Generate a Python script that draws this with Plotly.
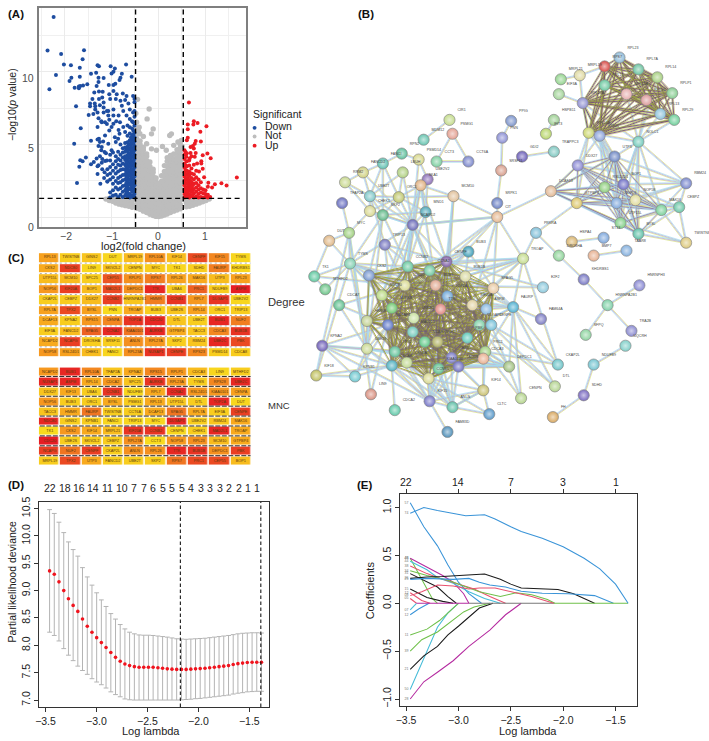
import plotly.graph_objects as go

FONT = "Liberation Sans"
W, H = 709, 741

# ---------------- Panel A: volcano ----------------
DOWN_SPARSE = [(-2.24,13.76),(-2.37,11.45),(-2.08,11.22),(-1.59,11.47),(-1.62,10.86),(-2.02,10.5),(-1.87,10.45),(-1.68,10.27),
(-2.19,9.77),(-2.33,8.8),(-1.90,9.36),(-1.86,9.59),(-1.68,9.66),(-1.79,8.9),(-1.70,8.98),(-1.67,9.02),(-1.61,9.05),(-1.52,9.14),
(-1.70,8.86),(-1.44,9.86),(-1.33,9.93),(-1.30,10.45),(-1.27,10.38),(-1.02,10.38),(-0.93,10.22),(-0.96,10.0),(-1.0,9.88),(-0.69,10.5),
(-0.78,9.86),(-0.81,9.59),(-0.83,9.43),(-0.57,9.66),(-1.28,9.59),(-1.17,9.57),(-1.28,9.3),(-1.32,9.02),(-1.06,9.09),(-0.96,9.09),
(-0.92,9.18),(-1.37,8.57),(-1.27,8.64),(-1.19,8.62),(-1.41,8.12),(-1.46,7.82),(-1.36,7.82),(-1.46,7.62),(-1.35,7.62),(-1.27,8.12),
(-1.2,8.23),(-1.17,7.89),(-1.05,8.46),(-0.96,8.68),(-0.89,8.46),(-0.76,8.5),(-0.68,8.34),(-0.54,8.34),(-0.51,8.12),(-1.03,8.12),
(-0.91,8.12),(-0.81,8.0),(-0.71,8.05),(-0.64,7.82),(-1.76,7.62),(-1.49,7.03),(-1.39,7.1),(-1.3,7.2),(-1.17,7.55),(-1.17,7.2),
(-1.07,7.3),(-0.96,7.4),(-0.78,7.66),(-0.75,7.3),(-0.61,7.4),(-0.54,7.2),(-0.96,7.0),(-1.07,7.0),(-0.85,7.0),(-0.68,7.0),
(-1.21,6.53),(-1.14,6.53),(-0.96,6.42),(-0.82,6.53),(-0.61,6.75),(-0.54,6.53),(-1.66,6.12),(-1.8,5.05),(-1.44,5.26),(-1.27,5.4),
(-1.25,5.17),(-1.14,5.62),(-1.05,5.96),(-0.93,5.5),(-0.83,5.73),(-0.71,5.85),(-0.61,6.19),(-1.21,4.83),(-1.15,4.49),(-1.07,5.05),
(-0.91,5.17),(-1.0,4.6),(-1.67,3.92),(-1.62,3.85),(-1.55,4.1),(-1.69,3.47),(-1.44,3.65),(-1.32,4.03),(-1.28,3.58),(-1.21,3.74),
(-1.14,3.87),(-1.74,2.36),(-1.24,2.31),(-1.09,2.45),(-1.28,4.9),(-1.3,5.35),(-1.22,4.6),(-1.25,4.2),(-1.2,4.0),(-1.1,3.9),(-1.12,4.4),
(-1.18,5.2),(-1.3,6.2),(-1.28,6.8),(-1.22,6.6),(-1.35,7.4),(-1.25,7.7),(-1.1,6.4),(-1.1,7.3),(-1.05,6.7),(-1.0,6.2),(-0.9,6.6),
(-0.85,6.0),(-0.75,6.2),(-1.3,3.5),(-1.2,3.3),(-1.38,3.8),(-1.30,2.97),(-1.15,3.1),(-1.16,2.7)]
DOWN_COLS = [(-0.51,[1.35,1.6,1.9,2.2,2.5,2.8,3.1,3.4,3.7,4.0,4.3,4.6,4.9,5.2,5.5,5.8,6.3,6.9,7.3,7.9]),
(-0.535,[1.5,1.75,2.05,2.35,2.65,2.95,3.25,3.55,3.85,4.15,4.45,4.75,5.05,5.35,5.65,5.95]),
(-0.56,[1.4,1.75,2.05,2.35,2.65,2.95,3.25,3.55,3.85,4.15,4.45,4.75,5.05,5.35,5.65,6.1,6.6]),
(-0.585,[1.5,1.9,2.2,2.5,2.8,3.1,3.4,3.7,4.0,4.3,4.6,4.9,5.2,5.5]),
(-0.61,[1.35,1.6,1.95,2.3,2.6,2.9,3.2,3.5,3.8,4.1,4.4,4.7,5.0,5.3,5.75]),
(-0.635,[1.6,1.95,2.25,2.6,2.9,3.25,3.55,3.85,4.15,4.4,4.7,5.0]),
(-0.66,[1.45,1.8,2.1,2.45,2.75,3.05,3.4,3.65,3.95,4.25,4.55,4.85,5.15,5.6,6.3]),
(-0.685,[1.65,2.0,2.35,2.8,3.15,3.5,3.8,4.1,4.65]),
(-0.71,[1.5,1.85,2.2,2.6,2.95,3.3,3.6,3.95,4.2,4.5,4.8,5.1]),
(-0.76,[1.4,1.75,2.15,2.55,2.9,3.3,3.7,4.1,4.45,4.75]),
(-0.81,[1.55,2.0,2.4,2.8,3.25,3.55,3.9,4.3,5.0]),
(-0.86,[1.4,1.9,2.35,2.7,3.15,3.6,4.0,4.5,5.4]),
(-0.91,[1.55,2.05,2.5,3.0,3.4,3.85,4.2]),
(-0.97,[1.5,1.85,2.3,2.75,3.2,3.65,4.45]),
(-1.03,[1.35,1.7,2.6,3.0,3.45,3.9,4.3]),
(-1.09,[2.45,2.9,3.3])]
UP_SPARSE = [(0.655,7.89),(0.76,6.6),(0.84,6.48),(0.63,6.37),(0.75,6.37),(1.03,6.26),(0.63,6.05),(0.9,5.87),(0.63,5.46),(0.61,5.3),
(0.91,5.2),(0.8,5.24),(0.78,5.05),(0.74,4.9),(0.69,4.83),(0.76,4.72),(0.58,4.49),(0.69,4.42),(0.8,4.42),(1.05,4.38),(0.95,4.26),
(1.12,4.06),(0.6,4.15),(0.67,4.03),(0.78,4.15),(0.92,3.85),(0.83,3.7),(0.92,3.7),(0.95,3.33),(1.68,2.74),(1.35,2.33),(1.46,2.18),
(1.21,2.27),(1.07,2.38),(1.06,2.1),(1.15,2.04),(0.87,3.15),(0.98,2.75)]
UP_COLS = [(0.56,[1.35,1.6,1.9,2.2,2.5,2.8,3.1,3.4,3.7,4.0,4.3,4.6]),
(0.585,[1.5,1.75,2.05,2.35,2.65,2.95,3.25,3.55]),
(0.61,[1.4,1.7,2.0,2.3,2.6,2.9,3.2,3.5,3.85,4.4]),
(0.635,[1.5,1.8,2.1,2.4,2.7,3.0]),
(0.66,[1.35,1.6,1.95,2.25,2.55,2.85,3.15,3.55,3.9]),
(0.685,[1.5,1.85,2.15,2.45]),
(0.71,[1.45,1.75,2.05,2.4,2.7,3.0,3.35,4.2]),
(0.735,[1.55,1.85,2.2]),
(0.76,[1.35,1.65,1.95,2.3,2.6,2.95,3.6]),
(0.81,[1.45,1.75,2.05,2.35,2.75,3.2]),
(0.86,[1.35,1.6,1.9,2.2,2.6]),
(0.91,[1.4,1.7,2.0,2.4]),
(0.96,[1.35,1.65,1.9]),
(1.01,[1.4,1.6,1.85]),
(1.06,[1.35,1.55]),
(1.11,[1.4])]
NOT_SPARSE = [(-0.196,7.44),(-0.24,6.76),(-0.48,7.14),(-0.465,6.53),(-0.41,6.19),(-0.11,6.07),(-0.146,5.73),(-0.04,4.6),(0.088,4.87),
(0.17,4.6),(0.28,5.73),(0.244,5.62),(0.33,4.94),(0.42,5.17),(0.49,5.28),(0.51,4.87),(-0.32,5.55),(-0.25,5.05),(-0.146,4.7),
(-0.395,5.74),(-0.43,5.96),(-0.445,8.1),(-0.47,6.1)]
NOT_COLS = [(-1.12,[1.25]),(-1.05,[1.15,1.3]),(-0.98,[1.1,1.3]),(-0.91,[0.98,1.18,1.32]),(-0.84,[0.9,1.1,1.3]),(-0.77,[0.85,1.05,1.28]),
(-0.70,[0.8,1.0,1.25]),(-0.63,[0.75,0.98,1.2]),(-0.56,[0.68,0.92,1.18]),
(-0.46,[0.62,0.9,1.2,1.5,1.8,2.1,2.4,2.7,3.0,3.3,3.6,3.9,4.2,4.5,4.8,5.1,5.4,5.7]),
(-0.39,[0.55,0.8,1.1,1.4,1.7,2.0,2.3,2.6,2.9,3.2,3.5,3.8,4.1,4.4,4.7,5.0,5.25]),
(-0.32,[0.42,0.7,1.0,1.3,1.6,1.9,2.2,2.5,2.8,3.1,3.4,3.7,4.0,4.3,4.6,4.8]),
(-0.25,[0.32,0.6,0.9,1.2,1.5,1.8,2.1,2.4,2.7,3.0,3.3,3.6,3.9,4.2,4.35]),
(-0.18,[0.2,0.5,0.8,1.1,1.4,1.7,2.0,2.3,2.6,2.9,3.2,3.5,3.8]),
(-0.11,[0.12,0.4,0.7,1.0,1.3,1.6,1.9,2.2,2.5,2.8,3.1,3.3]),
(-0.05,[0.06,0.35,0.65,0.95,1.25,1.55,1.85,2.15,2.45,2.7]),
(0.01,[0.05,0.33,0.63,0.93,1.23,1.53,1.8,2.1,2.3]),
(0.07,[0.08,0.38,0.68,0.98,1.28,1.58,1.88,2.18,2.48,2.85]),
(0.13,[0.15,0.45,0.75,1.05,1.35,1.65,1.95,2.25,2.55,2.85,3.15,3.55]),
(0.19,[0.22,0.52,0.82,1.12,1.42,1.72,2.02,2.32,2.62,2.92,3.22,3.52,3.85,4.1]),
(0.26,[0.32,0.62,0.92,1.22,1.52,1.82,2.12,2.42,2.72,3.02,3.32,3.62,3.92,4.25]),
(0.33,[0.42,0.72,1.02,1.32,1.62,1.92,2.22,2.52,2.82,3.12,3.42,3.72,4.02,4.35]),
(0.40,[0.5,0.8,1.1,1.4,1.7,2.0,2.3,2.6,2.9,3.2,3.5,3.8,4.1,4.4,4.65]),
(0.47,[0.58,0.88,1.18,1.48,1.78,2.08,2.38,2.68,2.98,3.28,3.58,3.88,4.18,4.48,4.78,5.0]),
(0.60,[0.72,1.0,1.25]),(0.67,[0.76,1.02,1.26]),(0.74,[0.82,1.06,1.28]),(0.81,[0.9,1.12]),(0.88,[0.98,1.2]),(0.95,[1.06,1.25]),(1.02,[1.15,1.3]),(1.09,[1.25])]
FC_CUTS = [-0.487, 0.534]
P_CUT = 1.3
LEGEND_NAMES = ["Down", "Not", "Up"]
VOLCANO_COLORS = ["#1e4da0", "#bdbdbd", "#ec1c24"]

# ---------------- Panel B: network ----------------
RIBO = [("RPL23",619,53,"#8fbbd8"),("RPS7",604,62,"#d84a45"),("RPL7A",638,65,"#6cc3a0"),("RPL14",657,73,"#a6cf7f"),("RPLP1",672,89,"#86cc90"),
("RPL13",660,110,"#8fc4dc"),("RPL29",674,116,"#6fcf9a"),("RPL15",604,81,"#6cc8a0"),("RPL23A",626,90,"#e6aeae"),("RPL26",646,96,"#dc9a9a"),
("RPL27A",582,99,"#8f90d0"),("RPL10A",588,129,"#cbd56e"),("RPS15",599,132,"#8da3db")]
RIBO_SIDE = [("MRPL19",579,71,"#dfd9a0"),("MRPL21",560,75,"#94d48f"),("EIF3A",558,90,"#a3d49a"),("HSPB11",553,116,"#9ed094"),("IFIT3",545,130,"#b8d66c"),
("TRAPPC3",553,148,"#7fc7c0"),("NOLC1",638,138,"#74cbbc")]
NUCLEOLAR = [("UTP3",614,153,"#6f88c4"),("DDX27",577,162,"#8b89d4"),("BOP1",623,181,"#6f6fc5"),("RSL24D1",604,184,"#8fce7e"),("GTPBP4",576,200,"#dcc66a"),
("DCAF13",550,188,"#e2b894"),("NOP56",616,200,"#7fa8dc"),("NOP58",635,197,"#e0dc9c"),("MAK16",661,207,"#7bd09a"),("UTP15L",620,220,"#82cf88"),
("BYSL",638,231,"#5fc0a8"),("CEBPZ",679,204,"#6cc7a8"),("RBM24",686,180,"#7a88cd"),("TWISTNB",686,240,"#dcc87c")]
SMALL_RIGHT = [("PRKRA",535,230,"#80bfd8"),("HSPA4",571,239,"#d8b46e"),("ST13",603,235,"#7fa8dc"),("DROSHA",558,253,"#8fd49a"),("BMP7",593,253,"#e6b090"),
("TAAR8",626,248,"#84b0de"),("KHDRBS1",583,277,"#7878c4"),("HNRNPH3",639,283,"#8a8ad4"),("HNRNPA2B1",607,303,"#7fd0a8"),("SFPQ",585,333,"#8ed4a0"),
("TRA2B",631,329,"#8a8ad0"),("UQCRH",625,344,"#80cfc8"),("NDUFB9",593,363,"#74c4d0"),("SDHD",583,394,"#7a6ac0"),("FH",552,416,"#d8a860")]
SMALL_MID = [("CIR1",448,116,"#c4dc8c"),("PSMG1",451,130,"#e4a090"),("MDM12",422,136,"#68c4b0"),("RPN2",400,150,"#5fbf9c"),("PSMD14",417,156,"#d8d88c"),
("CCT3",435,158,"#7ccfa0"),("CCT6A",467,158,"#7c88cc"),("PPIG",510,117,"#7c94cc"),("PNN",501,134,"#8c90d4"),("SRSF11",500,167,"#d89e8c"),
("SRPK1",496,200,"#6a80c4"),("GDI2",521,153,"#6c60b8"),("CIT",496,214,"#e6b890"),("MCM10",452,193,"#e0c09a")]
LEFT_TOP = [("UBE2V2",426,176,"#8c70b8"),("SKA1",419,182,"#e0b080"),("LBUH",401,169,"#b0d080"),("FANCI",381,160,"#60bfb0"),("FANCD2",361,169,"#d0d080"),
("RRM2",343,179,"#c8d890"),("TFAP2A",340,200,"#6a70c0"),("UBE2T",368,193,"#7fc8c8"),("ORC1",397,194,"#c0c870"),("MND1",424,209,"#50a8b8"),
("CHEK1",368,208,"#d8d890"),("SKP2",381,212,"#60b888"),("NCAPD2",411,222,"#6a6ab8"),("MYC",347,230,"#a0d080"),("DUT",327,238,"#e0b888"),("TRIP13",383,242,"#7878c0")]
CORE = [("TYMS",348,261,"#80cfb0"),("CKS2",367,273,"#7898d0"),("CCNB2",406,264,"#68c8a0"),("CCNA2",428,268,"#70c8a0"),("CENPF",445,259,"#8060a8"),
("BUB1B",464,274,"#d8d8a0"),("SPAG5",492,286,"#e8c8a0"),("CDC20",403,283,"#d8d890"),("BUB1",434,283,"#e0a890"),("NDC80",380,293,"#b8d880"),
("AURKB",390,306,"#70c870"),("TOP2A",446,294,"#70a8d8"),("TTK",439,307,"#e08880"),("KIF20A",471,303,"#e0d0a0"),("ASPM",485,307,"#88b8e0"),
("HMMR",365,319,"#c0d090"),("NUSAP1",386,323,"#6078c8"),("UBE2C",412,316,"#c8e0a0"),("MAD2L1",411,330,"#70c8b8"),("DLGAP5",478,323,"#80d0a8"),
("CENPE",490,323,"#78c0d8"),("PBK",466,336,"#60c8b8"),("NCAPG",423,340,"#60c888"),("NUF2",436,340,"#b0b060"),("TPX2",393,350,"#60c098"),
("PRC1",484,350,"#a0d080"),("CEP55",450,356,"#7c7cc8"),("TACC3",457,365,"#7070c0"),("CDCA3",482,357,"#e8b090"),("CENPA",405,361,"#c0d890"),
("CDCA8",390,364,"#50b0c0"),("KIAA0101",437,367,"#60c090"),("CCNB1",427,377,"#d8d890")]
OUTER = [("BUB3",467,249,"#40a0b8"),("FAURP",512,305,"#50b0d0"),("TROAP",522,256,"#c4dc8c"),("MTHFD2",323,287,"#6cc488"),("TK1",312,274,"#60c8a0"),
("CDCA7",337,303,"#60c090"),("DEPDC1",508,365,"#a0c080"),("KIF14",482,389,"#c8c070"),("KIF15",428,400,"#7878c8"),("ANLN",451,406,"#60c0a8"),
("CLTC",488,413,"#5898c8"),("CENPN",520,397,"#b4d48c"),("CDCA2",393,409,"#60c8a8"),("LIN9",369,393,"#d89080"),("KPNB1",353,375,"#70c8d0"),
("KIF18",314,374,"#c0c060"),("KPNA2",320,344,"#7060b8"),("FAM83D",446,431,"#5090b8"),("CKAP2L",557,363,"#6ec4c8"),("DTL",554,385,"#b4d490"),
("FAM64A",540,317,"#7c7cc4"),("E2F2",542,285,"#8cc8dc"),("UBE2S",365,347,"#c8d890")]
RIBO_CLIQUE = ["RPL23","RPS7","RPL7A","RPL14","RPLP1","RPL13","RPL29","RPL15","RPL23A","RPL26","RPL27A","RPL10A","RPS15"]
NUCLEOLAR_CLIQUE = ["UTP3","DDX27","BOP1","RSL24D1","GTPBP4","DCAF13","NOP56","NOP58","MAK16","UTP15L","BYSL"]
CORE_CLIQUE = ["CKS2","CCNB2","CCNA2","CENPF","BUB1B","SPAG5","CDC20","BUB1","NDC80","AURKB","TOP2A","TTK","KIF20A","ASPM","HMMR","NUSAP1","UBE2C",
"MAD2L1","DLGAP5","CENPE","PBK","NCAPG","NUF2","TPX2","PRC1","CEP55","TACC3","CDCA3","CENPA","CDCA8","KIAA0101","CCNB1"]
HUBS = [("RPL27A",["EIF3A","MRPL19","RPL10A","RPS15","NOLC1","UTP3"]),("MRPL19",["MRPL21","RPS7"]),("NOLC1",["RPL13","RPL29","RPL26","RPL23A","RPL14","UTP3","BOP1","NOP56","NOP58","MAK16","BYSL","RBM24","UTP15L"]),
("RPS15",["UTP3","DDX27","BOP1","NOP56","BYSL","RSL24D1","UTP15L"]),("RPL10A",["DDX27","UTP3","BOP1","GTPBP4","NOLC1"]),("RBM24",["BOP1","NOP56","NOP58","UTP3","MAK16","CEBPZ","DDX27"]),
("TWISTNB",["BYSL","MAK16","CEBPZ","UTP15L"]),("CEBPZ",["NOP56","NOP58","UTP15L","BYSL","BOP1"]),("DCAF13",["CIT","UTP3","DDX27"]),("GTPBP4",["PRKRA"]),
("CIR1",["MDM12"]),("PSMG1",["CCT3","CCT6A"]),("CCT3",["CCT6A"]),("PPIG",["PNN"]),("PNN",["SRSF11"]),("SRSF11",["SRPK1"]),("SRPK1",["CIT"]),("GDI2",["TRAPPC3"]),("HSPB11",["IFIT3"]),
("CIT",["MCM10","NCAPD2","KIF20A","CENPF","CDC20","BUB1","SPAG5"]),("MCM10",["SKA1","ORC1","CENPF","KIAA0101","TOP2A"]),("RPN2",["PSMD14","FANCI"]),("PSMD14",["UBE2V2","NCAPD2"]),
("UBE2V2",["SKA1","MND1"]),("SKA1",["NCAPD2","BUB1","CDC20","CENPF","NDC80","ORC1","MND1"]),("LBUH",["NCAPD2","ORC1","UBE2T"]),("FANCI",["FANCD2","UBE2T","ORC1","SKP2"]),("FANCD2",["RRM2","UBE2T","NCAPD2"]),
("RRM2",["UBE2T","CHEK1"]),("TFAP2A",["MYC"]),("UBE2T",["SKP2","ORC1","CHEK1","NCAPD2","TRIP13"]),("ORC1",["CHEK1","SKP2","NCAPD2","MND1"]),("MND1",["NCAPD2","SKP2","CCNB2"]),("CHEK1",["SKP2","NCAPD2","MYC"]),
("SKP2",["NCAPD2","CKS2","TYMS","CCNB2","UBE2S"]),("NCAPD2",["CDC20","CCNB2","CENPF","CCNA2","BUB1","NDC80","TOP2A","NUSAP1","TYMS","TPX2","AURKB","CIT"]),("MYC",["DUT","UBE2S","TYMS","KPNA2"]),("DUT",["TYMS","TK1"]),("TRIP13",["TOP2A","CDC20","AURKB","CENPF"]),
("TYMS",["TK1","MTHFD2","CKS2","CDC20","NDC80","AURKB","UBE2S","CCNB2","BUB1","TOP2A","KIF18"]),("TK1",["MTHFD2","CDC20"]),("CDCA7",["UBE2S","NUSAP1","CDC20"]),
("BUB3",["CENPF","BUB1B","BUB1","CCNB2","AURKB","SPAG5"]),("FAURP",["SPAG5","CENPA","CCNA2","BUB1B","TOP2A","KIF20A","DLGAP5","PRC1","ASPM","FAM64A","CENPN","CKAP2L","DEPDC1","DTL"]),
("TROAP",["CENPF","BUB1B","TOP2A","SPAG5","FAURP","BUB1","KIF20A","CDC20","CCNB2","CIT"]),("E2F2",["CENPF","CDC20"]),("UBE2S",["KPNA2","KPNB1","TACC3","CDCA8","NUSAP1","TPX2","HMMR","NDC80","CKS2","CDCA3","KIF15"]),
("KPNA2",["KIF18","KPNB1","TPX2","CDCA8","NUSAP1","KIF15"]),("KIF18",["KPNB1","CDCA8"]),("KPNB1",["NUSAP1","CDCA8"]),("LIN9",["NUSAP1","MYC"]),("CDCA2",["CDCA8"]),
("KIF15",["CCNB1","CDCA8","KIAA0101","TPX2","CENPA","CEP55","TACC3","NUF2","NCAPG","ANLN","FAM83D"]),("ANLN",["CCNB1","TACC3","CEP55","CENPA","NUF2","KIAA0101","TPX2","KIF14","CDCA8","NCAPG"]),
("KIF14",["CEP55","TACC3","PRC1","CDCA3","CCNB1","ANLN","KIF15"]),("CLTC",["KIF14","CCNB1","ANLN"]),("DEPDC1",["PRC1","CDCA3","TACC3","CENPA","TPX2","KIAA0101","CDCA8","CEP55","PBK","DLGAP5","NUF2"]),
("CENPN",["PRC1","CENPE"]),("CKAP2L",["PRC1","CENPE","TROAP"]),("DTL",["CENPE","DLGAP5"]),("PRKRA",["DROSHA","TROAP"]),("HSPA4",["ST13"]),("DROSHA",["KHDRBS1"]),("BMP7",["TAAR8"]),
("KHDRBS1",["HNRNPA2B1"]),("HNRNPH3",["HNRNPA2B1"]),("HNRNPA2B1",["SFPQ","TRA2B"]),("UQCRH",["NDUFB9"]),("NDUFB9",["SDHD"]),("SDHD",["FH"]),("RPL23",["RPL15"])]

# ---------------- Panel C: hub gene tables ----------------
DEGREE_GENES = [
["RPL13","TWISTNB","GINS2","DUT","MRPL19","RPL10A","KIF14","CENPF","KIF15","TYMS"],
["CKS2","NDC80","LIN9","SKIV2L2","CENPN","MYC","TK1","SDHD","FAURP","KHDRBS1"],
["UTP15L","MCM10","SPC25","CEP55","RPLP1","RPS7","RPL26","MAK16","UTP3","RPL23"],
["NOP56","KIF20A","BOP1","MAD2L1","DEPDC1","TTK","UBA6","PRC1","NDUFB9","ASPM"],
["CKAP2L","CEBPZ","DDX27","CCNB2","HNRNPA2B1","HMMR","CCNB1","RPL7","DLGAP5","UBE2V2"],
["RPL7A","TPX2","BYSL","PNN","TROAP","BUB3","UBE2S","RPL14","ORC1","TRIP13"],
["DCAF13","KPNA2","RPS15","CENPA","TOP2A","CDC20","DTL","UBE2T","BUB1","NUF2"],
["EIF3A","FANCD2","SPAG5","CCNA2","KIAA0101","AURKB","GTPBP4","TACC3","CDCA3","BUB1B"],
["NCAPD2","NCAPG","DROSHA","SRSF11","ANLN","RPL27A","SKP2","RBM24","UBE2C","PBK"],
["NOP58","RSL24D1","CHEK1","FANCI","RPL23A","NUSAP1","CENPE","RPS23","PSMD14","CDCA8"]]
DEGREE_SCORE = [
[.35,.1,.15,.05,.2,.45,.2,.8,.5,.05],[.3,.85,.05,.15,.1,.1,.05,.1,.55,.05],[.2,.2,.1,.75,.45,.55,.35,.3,.2,.35],
[.4,.85,.2,.8,.45,.95,.1,.7,.1,1],[.1,.1,.2,.85,.15,.55,.9,.4,.9,.05],[.35,.8,.35,.02,.3,.1,.15,.35,.1,.1],
[.3,.1,.4,.5,.9,.95,.15,.1,.95,.55],[.1,.2,.7,.95,.6,.95,.3,.15,.5,.9],[.3,.85,.1,.1,.45,.4,.1,.15,.95,.8],
[.4,.35,.2,.05,.45,.9,.85,.5,.1,.1]]
MNC_GENES = [
["NCAPD2","BUB1","RPL10A","TFAP2A","KPNA2","RPS15","RPLP1","CDCA3","LIN9","MTHFD2"],
["NUSAP1","ASPM","RPL14","CDCA2","SPC25","AURKB","RPL23A","TYMS","RPS28","UBE2C"],
["DDX27","KIF13","UBA6","CCNB1","NDUFB9","RPL7","CCNA2","RSL24D1","KIAA0101","CENPA"],
["NOP56","BUB3","ORC1","BYSL","PSMG1","RPL13","UTP15L","DTL","TOP2A","DUT"],
["TACC3","HMMR","FAURP","TWISTNB","CCT6A","DCAF13","SPAG5","RPL7A","EIF3A","CENPE"],
["NDC80","GINS2","KPNB1","FANCI","TRIP13","MYC","DLGAP5","UBE2V2","RBM24","MAK16"],
["TK1","CKS2","KIF14","MRPL21","KIF20A","CCNB2","CENPN","CHEK1","MAD2L1","TROAP"],
["CDC20","UBE2S","SKIV2L2","CEBPZ","RPL27A","CCT3","NOP58","RPL23","MCM10","GTPBP4"],
["NCAPG","NUF2","CENPF","CKAP2L","ANLN","RPL26","TTK","BUB1B","DEPDC1","PBK"],
["MRPL19","TPX2","UTP3","FANCD2","UBE2T","SKP2","RPS7","PRC1","CEP55","BOP1"]]
MNC_SCORE = [
[.4,.95,.5,.15,.3,.5,.4,.2,.05,.1],[.95,.95,.3,.4,.15,.9,.4,.1,.5,.95],[.15,.3,.1,.9,.05,.3,.95,.4,.4,.35],
[.4,.1,.1,.3,.1,.3,.15,.1,.95,.05],[.15,.3,.6,.1,.1,.3,.6,.3,.1,.85],[.95,.1,.1,.05,.05,.05,.95,.1,.15,.3],
[.02,.4,.3,.2,.9,.9,.05,.1,.95,.3],[1,.1,.1,.1,.45,.02,.4,.45,.2,.3],[.85,.6,.85,.1,.45,.45,.95,.9,.45,.85],
[.1,.8,.3,.1,.1,.1,.6,.8,.8,.2]]
HEAT_SCALE = [[0,"#f8df1e"],[0.33,"#f8a51e"],[0.66,"#ee6a22"],[1,"#e61c23"]]

# ---------------- Panel D: cross-validation ----------------
CV_LOGLAMBDA = [-3.46,-3.414,-3.368,-3.321,-3.275,-3.229,-3.183,-3.137,-3.09,-3.044,-2.998,-2.952,-2.906,-2.859,-2.813,-2.767,-2.721,
-2.675,-2.628,-2.582,-2.536,-2.49,-2.444,-2.397,-2.351,-2.305,-2.259,-2.213,-2.166,-2.12,-2.074,-2.028,-1.982,-1.935,-1.889,-1.843,
-1.797,-1.751,-1.704,-1.658,-1.612,-1.566,-1.52,-1.473,-1.427,-1.381]
CV_MEAN = [9.36,9.30,9.16,9.00,8.85,8.73,8.62,8.48,8.35,8.24,8.14,8.05,7.96,7.87,7.78,7.71,7.66,7.63,7.61,7.60,7.60,7.60,7.60,7.59,7.58,
7.57,7.565,7.56,7.56,7.56,7.565,7.57,7.575,7.58,7.59,7.60,7.61,7.62,7.63,7.65,7.665,7.675,7.685,7.69,7.69,7.69]
CV_UPPER = [10.48,10.41,10.25,10.06,9.89,9.75,9.63,9.42,9.25,9.10,8.96,8.83,8.71,8.58,8.48,8.38,8.30,8.24,8.21,8.19,8.185,8.185,8.18,8.17,
8.16,8.15,8.135,8.12,8.115,8.11,8.115,8.12,8.125,8.13,8.14,8.15,8.16,8.17,8.18,8.195,8.21,8.22,8.225,8.23,8.23,8.225]
CV_LOWER = [8.24,8.18,8.08,7.94,7.82,7.72,7.62,7.54,7.47,7.39,7.33,7.28,7.22,7.15,7.10,7.06,7.02,7.005,7.0,7.0,7.0,7.0,7.0,7.0,7.0,7.0,
7.0,7.0,7.005,7.01,7.015,7.025,7.03,7.04,7.05,7.06,7.07,7.08,7.09,7.11,7.125,7.135,7.15,7.155,7.16,7.16]
CV_VLINES = [-2.177, -1.387]
CV_TOP_X = [-3.452,-3.312,-3.172,-3.032,-2.893,-2.753,-2.629,-2.535,-2.441,-2.35,-2.256,-2.165,-2.071,-1.977,-1.886,-1.792,-1.697,-1.606,-1.512,-1.428]
CV_TOP_LABELS = ["22","18","16","14","11","10","7","7","6","5","5","5","4","3","3","3","2","2","1","1"]

# ---------------- Panel E: coefficient paths ----------------
BLUE, CYAN, PURPLE, BLACK, GREEN, RED = "#3a94d8", "#45bcd8", "#b52ba0", "#1a1a1a", "#6fc04a", "#e8506e"
PATHS = [
(BLUE,"57",[-3.46,-3.33,-3.2,-3.1,-3.0,-2.9,-2.78],[1.05,.8,.6,.4,.22,.1,0]),
(CYAN,"50",[-3.46,-3.38,-3.3,-3.2,-3.1,-3.0],[-.9,-.7,-.5,-.25,-.1,0]),
(PURPLE,"28",[-3.46,-3.33,-3.2,-3.05,-2.9,-2.7,-2.55,-2.4],[-1.0,-.82,-.72,-.6,-.45,-.28,-.12,0]),
(BLACK,"21",[-3.46,-3.33,-3.2,-3.1,-3.0,-2.9,-2.8,-2.67],[-.69,-.55,-.45,-.33,-.24,-.14,-.05,0]),
(GREEN,"39",[-3.46,-3.35,-3.2,-3.05,-2.95,-2.85,-2.7],[-.5,-.38,-.3,-.17,-.09,-.04,0]),
(GREEN,"11",[-3.46,-3.3,-3.18,-3.05,-3.0],[-.33,-.27,-.18,-.05,0]),
(GREEN,"48",[-3.46,-3.35,-3.25,-3.2],[.47,.25,.05,0]),
(PURPLE,"46",[-3.46,-3.3,-3.15,-3.05,-2.95,-2.9],[.47,.38,.29,.22,.1,0]),
(CYAN,"44",[-3.46,-3.3,-3.2,-3.05,-2.9,-2.75,-2.6],[.44,.35,.27,.21,.12,.05,0]),
(RED,"38",[-3.46,-3.3,-3.2,-3.0,-2.85,-2.7,-2.55],[.39,.31,.27,.2,.15,.07,0]),
(BLACK,"31",[-3.46,-3.35,-3.2,-3.1,-3.02],[.31,.25,.17,.07,0]),
(BLACK,"15",[-3.46,-3.3,-3.15,-3.05],[.15,.06,.02,0]),
(RED,"12",[-3.46,-3.35,-3.27],[.11,.03,0]),
(RED,"05",[-3.46,-3.4],[.05,0]),
(BLUE,"12",[-3.46,-3.38,-3.28],[-.12,-.06,0]),
(CYAN,"07",[-3.46,-3.4],[-.07,0]),
(PURPLE,"",[-3.4,-2.9],[0,0]),
("#777777","",[-2.9,-2.08],[0,0]),
(GREEN,"34",[-3.46,-3.3,-3.1,-2.95,-2.8,-2.6,-2.45,-2.3,-2.15,-2.08],[.34,.29,.24,.18,.12,.07,.11,.09,.04,0]),
(RED,"08",[-3.46,-3.35,-3.2,-3.05,-2.9,-2.8,-2.65,-2.5,-2.3,-2.09],[.08,.12,.19,.18,.15,.16,.16,.12,.07,0]),
(BLACK,"26",[-3.46,-3.3,-3.15,-3.0,-2.85,-2.75,-2.6,-2.5,-2.4,-2.2,-2.05,-1.9,-1.7],[.26,.275,.28,.29,.305,.305,.25,.2,.16,.155,.145,.1,0]),
(BLUE,"25",[-3.46,-3.3,-3.05,-2.9,-2.8,-2.7,-2.55,-2.4,-2.2,-1.95,-1.7,-1.6,-1.52],[.25,.26,.25,.26,.22,.19,.17,.125,.105,.1,.08,.04,0]),
(GREEN,"",[-2.08,-1.38],[0,0]),
(BLUE,"74",[-3.46,-3.33,-3.2,-3.05,-2.93,-2.75,-2.65,-2.5,-2.4,-2.2,-2.0,-1.8,-1.65,-1.5,-1.38],[.94,1.0,.97,.94,.915,.925,.88,.8,.75,.68,.59,.47,.36,.2,0]),
]
PATH_TOP_X = [-3.5,-3.0,-2.5,-2.0,-1.5]
PATH_TOP_LABELS = ["22","14","7","3","1"]


def flatten(cols):
    return [(x, y) for x, ys in cols for y in ys]


def dom_x(a, b):
    return [a / W, b / W]


def dom_y(top, bottom):
    return [1 - bottom / H, 1 - top / H]


annotations = []


def ann(x, y, text, size=11, color="#222222", angle=0, xanchor="center", bold=False):
    annotations.append(dict(x=x / W, y=1 - y / H, xref="paper", yref="paper", text=f"<b>{text}</b>" if bold else text,
                            showarrow=False, xanchor=xanchor, yanchor="middle", textangle=angle,
                            font=dict(family=FONT, size=size, color=color)))


fig = go.Figure()

# Panel A traces
not_pts = flatten(NOT_COLS) + NOT_SPARSE
down_pts = flatten(DOWN_COLS) + DOWN_SPARSE
up_pts = flatten(UP_COLS) + UP_SPARSE
for pts, col, size in [(not_pts, VOLCANO_COLORS[1], 5.4), (down_pts, VOLCANO_COLORS[0], 4.0), (up_pts, VOLCANO_COLORS[2], 4.0)]:
    fig.add_trace(go.Scatter(x=[p[0] for p in pts], y=[p[1] for p in pts], mode="markers",
                             marker=dict(color=col, size=size, line=dict(width=0)), xaxis="x", yaxis="y", showlegend=False))
for v in FC_CUTS:
    fig.add_trace(go.Scatter(x=[v, v], y=[-0.66, 14.4], mode="lines", line=dict(color="black", width=1.4, dash="5px,3.5px"),
                             xaxis="x", yaxis="y", showlegend=False))
fig.add_trace(go.Scatter(x=[-2.55, 1.8], y=[P_CUT, P_CUT], mode="lines", line=dict(color="black", width=1.4, dash="5px,3.5px"),
                         xaxis="x", yaxis="y", showlegend=False))

# Panel C heatmaps
for genes, score, xa, ya in [(DEGREE_GENES, DEGREE_SCORE, "x2", "y2"), (MNC_GENES, MNC_SCORE, "x3", "y3")]:
    fig.add_trace(go.Heatmap(z=score, text=genes, texttemplate="%{text}", textfont=dict(size=3.8, color="#5b3a10", family=FONT),
                             colorscale=HEAT_SCALE, zmin=0, zmax=1, showscale=False, xgap=1.6, ygap=2, xaxis=xa, yaxis=ya, hoverinfo="skip"))

# Panel D traces
fig.add_trace(go.Scatter(x=CV_LOGLAMBDA, y=CV_MEAN, mode="markers", marker=dict(color="#f0141e", size=3.6),
                         error_y=dict(type="data", symmetric=False, array=[u - m for u, m in zip(CV_UPPER, CV_MEAN)],
                                      arrayminus=[m - l for m, l in zip(CV_MEAN, CV_LOWER)], color="#b4b4b4", thickness=1, width=2.4),
                         xaxis="x4", yaxis="y4", showlegend=False))
for v in CV_VLINES:
    fig.add_trace(go.Scatter(x=[v, v], y=[6.873, 10.62], mode="lines", line=dict(color="black", width=1, dash="3.5px,2.5px"),
                             xaxis="x4", yaxis="y4", showlegend=False))

# Panel E traces
for col, lab, xs, ys in PATHS:
    fig.add_trace(go.Scatter(x=xs, y=ys, mode="lines", line=dict(color=col, width=1.05), xaxis="x5", yaxis="y5", showlegend=False))
    if lab:
        fig.add_trace(go.Scatter(x=[xs[0] - 0.035], y=[ys[0]], mode="text", text=[lab], textposition="middle center",
                                 textfont=dict(size=3.5, color="#777777", family=FONT), xaxis="x5", yaxis="y5", showlegend=False))

# Panel C dotted seams (overlay pixel frame)
for i in range(1, 10):
    yd = 250 + 10.57 * i
    fig.add_trace(go.Scatter(x=[36, 248], y=[yd, yd], mode="lines", line=dict(color="#8a8a8a", width=0.7, dash="2px,3px"),
                             xaxis="x6", yaxis="y6", showlegend=False))
for i in range(1, 10):
    yd = 365 + 10 * i
    fig.add_trace(go.Scatter(x=[36, 248], y=[yd, yd], mode="lines", line=dict(color="#111111", width=0.9, dash="5px,1.5px"),
                             xaxis="x6", yaxis="y6", showlegend=False))

# Panel B traces
ALL_NODES = RIBO + RIBO_SIDE + NUCLEOLAR + SMALL_RIGHT + SMALL_MID + LEFT_TOP + CORE + OUTER
pos = {n[0]: (n[1], n[2]) for n in ALL_NODES}


def clique(names, reach=1000):
    out = []
    for i, a in enumerate(names):
        for b in names[i + 1:]:
            (x0, y0), (x1, y1) = pos[a], pos[b]
            if ((x1 - x0) ** 2 + (y1 - y0) ** 2) ** 0.5 <= reach:
                out.append((a, b))
    return out


def edge_xy(edges, off):
    xs, ys = [], []
    for a, b in edges:
        (x0, y0), (x1, y1) = pos[a], pos[b]
        d = max(((x1 - x0) ** 2 + (y1 - y0) ** 2) ** 0.5, 1)
        nx, ny = -(y1 - y0) / d * off, (x1 - x0) / d * off
        xs += [x0 + nx, x1 + nx, None]
        ys += [y0 + ny, y1 + ny, None]
    return xs, ys


hub_edges = [(h, o) for h, others in HUBS for o in others]
edge_styles = [
    (hub_edges, [("#dbe48a", 0.8, -0.8), ("#bda9d8", 0.8, 0.0), ("#a5dcec", 0.7, 0.8)]),
    (clique(NUCLEOLAR_CLIQUE), [("#cfd680", 0.8, -0.7), ("#8f6aa4", 0.8, 0.1), ("#a5dcec", 0.5, 0.8)]),
    (clique(RIBO_CLIQUE), [("#cfc98a", 0.9, -0.8), ("#6d3f80", 0.9, 0.1), ("#9aa63c", 0.6, 0.8)]),
    (clique(CORE_CLIQUE, 85), [("#a3a82c", 0.9, -0.4), ("#6e5a78", 0.4, 0.5)]),
]
for edges, layers in edge_styles:
    for col, width, off in layers:
        xs, ys = edge_xy(edges, off)
        fig.add_trace(go.Scatter(x=xs, y=ys, mode="lines", line=dict(color=col, width=width), xaxis="x6", yaxis="y6",
                                 showlegend=False, hoverinfo="skip"))


def lighten(c, t=0.62):
    r, g, b = int(c[1:3], 16), int(c[3:5], 16), int(c[5:7], 16)
    return "#%02x%02x%02x" % tuple(int(v + (255 - v) * t) for v in (r, g, b))


fig.add_trace(go.Scatter(x=[n[1] for n in ALL_NODES], y=[n[2] for n in ALL_NODES], mode="markers+text",
                         text=[n[0] for n in ALL_NODES], textposition="top right",
                         textfont=dict(size=3.6, color="#444444", family=FONT),
                         marker=dict(size=11.2, color=[n[3] for n in ALL_NODES],
                                     gradient=dict(type="radial", color=[lighten(n[3]) for n in ALL_NODES]),
                                     line=dict(color="#8a8a8a", width=0.7)),
                         xaxis="x6", yaxis="y6", showlegend=False))

# Panel A legend glyphs
fig.add_trace(go.Scatter(x=[252, 252, 252], y=[124, 132.7, 142], mode="markers", marker=dict(color=[VOLCANO_COLORS[0], VOLCANO_COLORS[1], VOLCANO_COLORS[2]], size=3.9),
                         xaxis="x6", yaxis="y6", showlegend=False))

# Text
ann(2, 9, "(A)", 11.5, "#111111", xanchor="left", bold=True)
ann(354, 9, "(B)", 11.5, "#111111", xanchor="left", bold=True)
ann(2, 255, "(C)", 11.5, "#111111", xanchor="left", bold=True)
ann(2, 485, "(D)", 11.5, "#111111", xanchor="left", bold=True)
ann(353, 485, "(E)", 11.5, "#111111", xanchor="left", bold=True)
ann(8, 100, "\u2212log10(<i>p</i> value)", 10.5, angle=-90)
ann(140, 243, "log2(fold change)", 11)
for x, y, t in [(32, 74, "10"), (32, 144, "5"), (32, 224, "0")]:
    ann(x, y, t, 10.5, "#4d4d4d", xanchor="right")
for x, t in [(62, "\u22122"), (109, "\u22121"), (155, "0"), (202, "1")]:
    ann(x, 233.5, t, 10.5, "#4d4d4d")
ann(248, 110, "Significant", 10.5, xanchor="left")
for y, t in zip([122.5, 131.5, 141], LEGEND_NAMES):
    ann(260, y, t, 10.5, xanchor="left")
ann(263, 300, "Degree", 11.2, "#333333", xanchor="left")
ann(263, 404.5, "MNC", 9.5, "#333333", xanchor="left")
ann(8, 582, "Partial likelihood deviance", 10.5, angle=-90)
ann(148, 733, "Log lambda", 11)
ann(527, 733, "Log lambda", 11)
ann(368, 591, "Coefficients", 11, angle=-90)
for v, t in zip(CV_TOP_X, CV_TOP_LABELS):
    annotations.append(dict(x=v, y=1 - 488 / H, xref="x4", yref="paper", text=t, showarrow=False, yanchor="middle",
                            font=dict(family=FONT, size=10.5, color="#222222")))
for v, t in zip(PATH_TOP_X, PATH_TOP_LABELS):
    annotations.append(dict(x=v, y=1 - 482 / H, xref="x5", yref="paper", text=t, showarrow=False, yanchor="middle",
                            font=dict(family=FONT, size=10.5, color="#222222")))

frame_a = dict(showline=True, mirror=True, linecolor="#7f7f7f", linewidth=1.5, zeroline=False, showticklabels=False, ticks="")
hide = dict(showgrid=False, zeroline=False, showticklabels=False, ticks="", showline=False, fixedrange=True)
r_axis = dict(showline=True, mirror="allticks", linecolor="#333333", linewidth=1.2, showgrid=False, zeroline=False, ticks="outside", ticklen=4,
              tickcolor="#333333", tickwidth=1, tickfont=dict(family=FONT, size=10.5, color="#222222"))

fig.update_layout(
    width=W, height=H, autosize=False, margin=dict(l=0, r=0, t=0, b=0), paper_bgcolor="white", plot_bgcolor="rgba(0,0,0,0)",
    showlegend=False, annotations=annotations, font=dict(family=FONT),
    xaxis=dict(domain=dom_x(35, 243), range=[-2.557, 1.868], tickvals=[-2, -1, 0, 1], showgrid=True, gridcolor="#ebebeb", gridwidth=1,
               minor=dict(tickvals=[-2.5, -1.5, -0.5, 0.5, 1.5], showgrid=True, gridcolor="#f0f0f0", gridwidth=0.6), anchor="y", **frame_a),
    yaxis=dict(domain=dom_y(2.7, 224), range=[-0.66, 14.4], tickvals=[0, 5, 10], showgrid=True, gridcolor="#ebebeb", gridwidth=1,
               minor=dict(tickvals=[2.5, 7.5, 12.5], showgrid=True, gridcolor="#f0f0f0", gridwidth=0.6), anchor="x", **frame_a),
    xaxis2=dict(domain=dom_x(35, 249), anchor="y2", **hide),
    yaxis2=dict(domain=dom_y(249.5, 355.7), anchor="x2", autorange="reversed", **hide),
    xaxis3=dict(domain=dom_x(35, 249), anchor="y3", **hide),
    yaxis3=dict(domain=dom_y(365, 465), anchor="x3", autorange="reversed", **hide),
    xaxis4=dict(domain=dom_x(35.7, 266.7), range=[-3.559, -1.305], tickvals=[-3.5, -3, -2.5, -2, -1.5],
                ticktext=["\u22123.5", "\u22123.0", "\u22122.5", "\u22122.0", "\u22121.5"], anchor="y4",
                **{**r_axis, "mirror": True}),
    yaxis4=dict(domain=dom_y(501.7, 708.7), range=[6.873, 10.62], tickvals=[7, 7.5, 8, 8.5, 9, 9.5, 10, 10.5],
                ticktext=["7.0", "7.5", "8.0", "8.5", "9.0", "9.5", "10.0", "10.5"], tickangle=-90, anchor="x4",
                **{**r_axis, "mirror": True}),
    xaxis5=dict(domain=dom_x(398.3, 636.7), range=[-3.557, -1.294], tickvals=[-3.5, -3, -2.5, -2, -1.5],
                ticktext=["\u22123.5", "\u22123.0", "\u22122.5", "\u22122.0", "\u22121.5"], anchor="y5", **r_axis),
    yaxis5=dict(domain=dom_y(494, 707.7), range=[-1.073, 1.138], tickvals=[-1, -0.5, 0, 0.5, 1],
                ticktext=["\u22121.0", "\u22120.5", "0.0", "0.5", "1.0"], tickangle=-90, anchor="x5",
                **{**r_axis, "mirror": True}),
    xaxis6=dict(domain=[0, 1], range=[0, W], anchor="y6", **hide),
    yaxis6=dict(domain=[0, 1], range=[H, 0], anchor="x6", **hide),
)

fig.write_html("out.html", config={"displayModeBar": False},
               post_script="document.body.style.margin='0';document.body.style.overflow='hidden';")
